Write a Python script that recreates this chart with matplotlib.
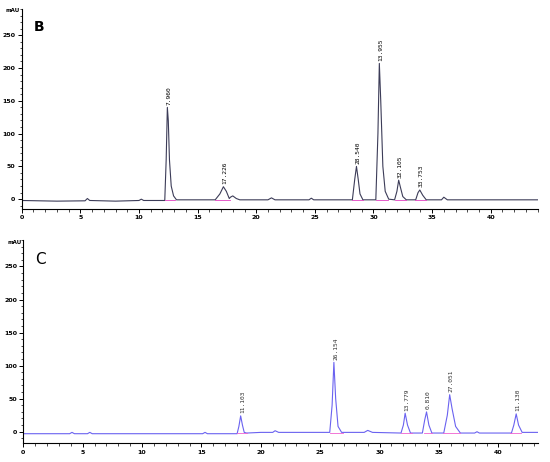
import matplotlib
matplotlib.use("Agg")
import matplotlib.pyplot as plt
from matplotlib.ticker import MultipleLocator

# panel B trace (min, mAU)
t_b = [0, 1.5, 3, 5.4, 5.6, 5.8, 8, 10.0, 10.2, 10.4, 12.2, 12.32, 12.42, 12.5, 12.6, 12.75, 12.95, 13.2,
       16.5, 16.9, 17.2, 17.45, 17.7, 17.8, 18.0, 18.3, 18.6, 21.0, 21.3, 21.6, 24.5, 24.7, 24.9,
       28.2, 28.4, 28.55, 28.7, 28.85, 29.1, 30.2, 30.38, 30.5, 30.62, 30.8, 31.0, 31.3,
       31.8, 32.0, 32.15, 32.3, 32.5, 32.8, 33.6, 33.8, 33.95, 34.2, 34.5, 35.8, 36.0, 36.3, 40, 44]
y_b = [-2, -2.5, -3, -2.5, 1, -2, -3, -2, 0, -2, -2, 60, 140, 120, 60, 20, 5, -1,
       -1, 8, 19, 12, 1, 3, 5, 1, -1, -1, 2, -1, -1, 1.5, -1,
       -1, 30, 50, 30, 8, -1, -1, 100, 207, 150, 50, 12, 0,
       -1, 12, 29, 18, 4, -1, -1, 10, 14, 6, -1, -1, 3, -1, -1, -1]
peak_t_b = [12.42, 17.2, 28.55, 30.5, 32.15, 33.95]
peak_h_b = [140, 19, 50, 207, 29, 14]
peak_lbl_b = ["7.960", "17.226", "28.540", "13.955", "32.105", "33.753"]
base_b = [(12.2, 13.1), (16.5, 17.8), (28.2, 29.1), (30.2, 31.2), (31.8, 32.8), (33.5, 34.5)]

# panel C trace
t_c = [0, 2, 3.9, 4.1, 4.3, 5.4, 5.6, 5.8, 10, 15.1, 15.3, 15.5, 18.0, 18.15, 18.3, 18.45, 18.6, 18.8,
       20, 21.0, 21.2, 21.5, 25.8, 26.0, 26.15, 26.3, 26.5, 26.8, 28.7, 29.0, 29.4,
       31.8, 32.0, 32.15, 32.35, 32.6, 33.6, 33.8, 33.95, 34.15, 34.4,
       35.4, 35.7, 35.9, 36.1, 36.4, 36.8, 38.0, 38.2, 38.4, 41.1, 41.3, 41.5, 41.7, 42.0, 43.5]
y_c = [-3, -3, -3, -1, -3, -3, -1, -3, -3, -3, -1, -3, -3, 8, 24, 10, -1, -2,
       -1, -1, 1.5, -1, -1, 40, 105, 50, 8, -1, -1, 2, -1,
       -2, 10, 28, 10, -2, -2, 18, 30, 10, -2,
       -2, 25, 56, 35, 8, -2, -2, 0, -2, -2, 10, 27, 10, -1, -1]
peak_t_c = [18.3, 26.15, 32.15, 33.95, 35.9, 41.5]
peak_h_c = [24, 105, 28, 30, 56, 27]
peak_lbl_c = ["11.103", "26.154", "13.779", "0.810", "27.051", "11.130"]
base_c = [(18.0, 18.8), (25.8, 26.9), (31.8, 32.7), (33.7, 34.4), (35.3, 36.8), (41.0, 41.9)]

fig = plt.figure(figsize=(5.5, 4.62), dpi=100)
ax_b = fig.add_axes([0.0395, 0.5476, 0.938, 0.433])
ax_c = fig.add_axes([0.0424, 0.0405, 0.935, 0.44])


def style(ax, xmax, ymin):
    ax.set_xlim(0, xmax)
    ax.set_ylim(ymin, 290)
    ax.spines["top"].set_visible(False)
    ax.spines["right"].set_visible(False)
    ax.spines["left"].set_linewidth(0.8)
    ax.spines["bottom"].set_linewidth(0.8)
    ax.xaxis.set_major_locator(MultipleLocator(5))
    ax.xaxis.set_minor_locator(MultipleLocator(1))
    ax.yaxis.set_major_locator(MultipleLocator(50))
    ax.yaxis.set_minor_locator(MultipleLocator(10))
    ax.set_yticks(range(0, 251, 50))
    ax.tick_params(which="major", length=3, width=0.7, labelsize=4.5, pad=1.5)
    ax.tick_params(which="minor", length=1.8, width=0.5)
    ax.set_xticks(range(0, 41, 5))
    ax.set_xticklabels([str(v) for v in range(0, 41, 5)], fontweight="bold")
    ax.set_yticklabels([str(v) for v in range(0, 251, 50)], fontweight="bold")
    ax.text(-0.004, 0.99, "mAU", transform=ax.transAxes, ha="right", va="center",
            fontsize=4, fontweight="bold")


style(ax_b, 44, -15)
style(ax_c, 43.3, -17.5)

ax_b.plot(t_b, y_b, color="#3c3c58", lw=0.8)
for a, b in base_b:
    ax_b.plot([a, b], [-1, -1], color="#e040c0", lw=0.6)
for t, h, s in zip(peak_t_b, peak_h_b, peak_lbl_b):
    ax_b.text(t + 0.15, h + 4, s, rotation=90, ha="center", va="bottom", fontsize=4.5,
              family="DejaVu Sans Mono")
ax_b.text(1.0, 262, "B", fontsize=10, fontweight="bold", ha="left", va="center")

ax_c.plot(t_c, y_c, color="#6a62f0", lw=0.8)
for a, b in base_c:
    ax_c.plot([a, b], [-1.5, -1.5], color="#f060d0", lw=0.6)
for t, h, s in zip(peak_t_c, peak_h_c, peak_lbl_c):
    ax_c.text(t + 0.15, h + 4, s, rotation=90, ha="center", va="bottom", fontsize=4.5,
              family="DejaVu Sans Mono", color="#303030")
ax_c.text(1.0, 260, "C", fontsize=11, ha="left", va="center")

fig.savefig("out.png", dpi=100)
